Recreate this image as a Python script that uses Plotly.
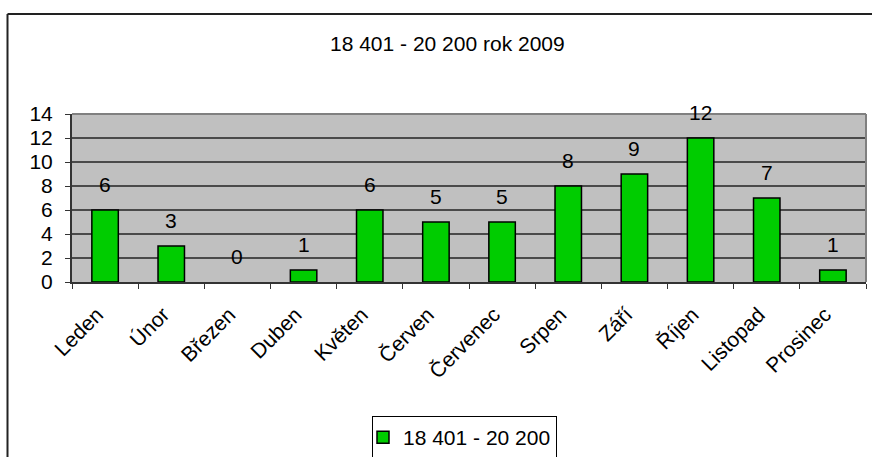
import plotly.graph_objects as go

months = ["Leden", "Únor", "Březen", "Duben", "Květen", "Červen", "Červenec",
          "Srpen", "Září", "Říjen", "Listopad", "Prosinec"]
values = [6, 3, 0, 1, 6, 5, 5, 8, 9, 12, 7, 1]
series_name = "18 401 - 20 200"
title_text = "18 401 - 20 200 rok 2009"
y_ticks = [0, 2, 4, 6, 8, 10, 12, 14]

W, H = 872, 457
L, R, T, B = 72, 6, 114, 175
pw = W - L - R
ph = H - T - B

def px_x(px):
    return (px - L) / pw

def px_y(py):
    return (H - B - py) / ph

FONT = "Liberation Sans, Arial, sans-serif"
FS = 21

fig = go.Figure()
fig.add_trace(go.Bar(
    x=months, y=values, name=series_name,
    marker=dict(color="#00CC00",
                line=dict(color="#000000",
                          width=[1.5 if v > 0 else 0 for v in values])),
    width=0.4,
))

for m, v in zip(months, values):
    fig.add_annotation(x=m, y=v, text=str(v), showarrow=False,
                       yshift=26, yanchor="middle",
                       font=dict(family=FONT, size=FS, color="#000000"))

# outer chart border (left and top visible)
fig.add_shape(type="line", xref="paper", yref="paper",
              x0=px_x(7.5), x1=px_x(7.5), y0=px_y(460), y1=px_y(14),
              line=dict(color="#222222", width=2))
fig.add_shape(type="line", xref="paper", yref="paper",
              x0=px_x(7.5), x1=px_x(875), y0=px_y(14), y1=px_y(14),
              line=dict(color="#222222", width=2))
# plot area top & right border
fig.add_shape(type="line", xref="paper", yref="paper",
              x0=0, x1=1, y0=1, y1=1, line=dict(color="#808080", width=2))
fig.add_shape(type="line", xref="paper", yref="paper",
              x0=1, x1=1, y0=0, y1=1, line=dict(color="#808080", width=2))

fig.add_annotation(xref="paper", yref="paper", x=px_x(447), y=px_y(44),
                   text=title_text, showarrow=False,
                   xanchor="center", yanchor="middle",
                   font=dict(family=FONT, size=FS, color="#000000"))

fig.update_layout(
    width=W, height=H,
    margin=dict(l=L, r=R, t=T, b=B, pad=0, autoexpand=False),
    paper_bgcolor="#FFFFFF",
    plot_bgcolor="#C0C0C0",
    font=dict(family=FONT, size=FS, color="#000000"),
    showlegend=True,
    legend=dict(x=px_x(372), y=px_y(416), xanchor="left", yanchor="top",
                bordercolor="#000000", borderwidth=1, bgcolor="#FFFFFF",
                font=dict(family=FONT, size=FS, color="#000000"),
                itemwidth=30, indentation=-10),
    bargap=0.6,
)
fig.update_xaxes(
    type="category", tickangle=-45, showgrid=False,
    showline=True, linecolor="#333333", linewidth=2,
    ticks="outside", tickson="boundaries", ticklen=5, tickcolor="#333333",
    ticklabelstandoff=10, ticklabelshift=-8,
    tickfont=dict(family=FONT, size=FS, color="#000000"),
)
fig.update_yaxes(
    range=[0, 14], tickvals=y_ticks, showgrid=True, gridcolor="#4A4A4A",
    gridwidth=1.5, zeroline=False,
    showline=True, linecolor="#333333", linewidth=2,
    ticks="outside", ticklen=5, tickcolor="#333333", ticklabelstandoff=8,
    tickfont=dict(family=FONT, size=FS, color="#000000"),
)

fig.write_html("out.html", config={"displayModeBar": False},
               post_script="document.body.style.margin='0';document.body.style.overflow='hidden';")
